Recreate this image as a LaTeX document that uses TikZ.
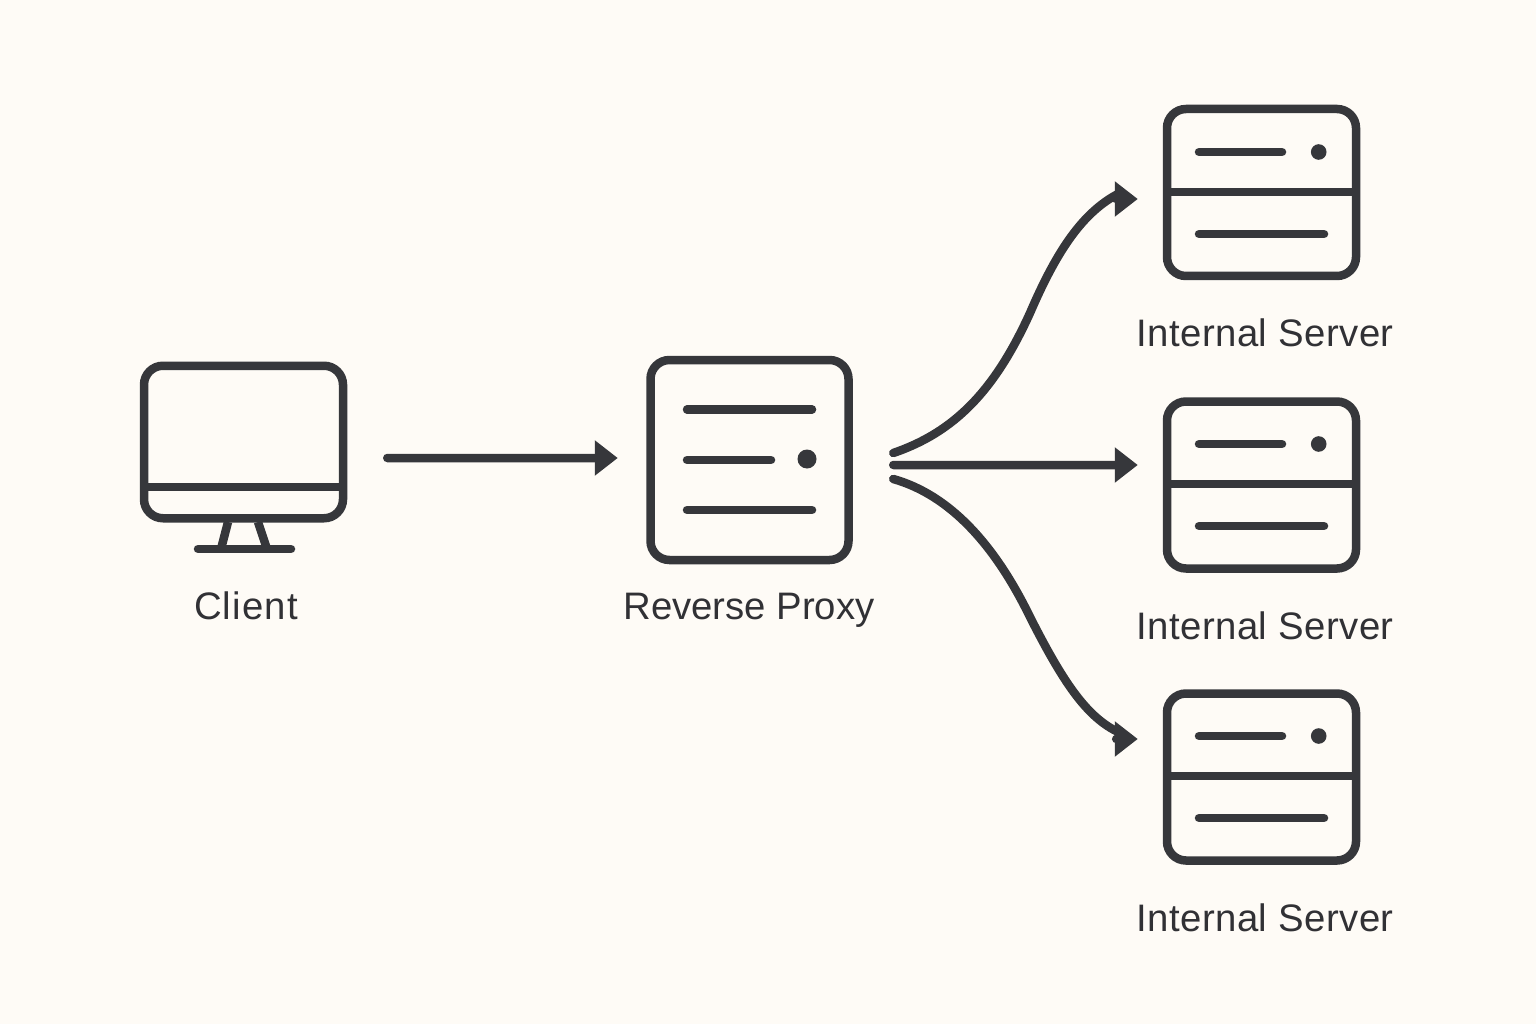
\documentclass[tikz,border=0pt]{standalone}
\usepackage{fontspec}
\setmainfont{Liberation Sans}
\usetikzlibrary{arrows.meta}
\definecolor{inkgray}{HTML}{36373B}
\definecolor{papercream}{HTML}{FEFBF6}
\tikzset{
    iconbox/.style={draw=inkgray, line width=0.085cm, rounded corners=0.19cm, inner sep=0pt},
    iconline/.style={draw=inkgray, line width=0.085cm, line cap=round},
    flowarrow/.style={draw=inkgray, line width=0.085cm, line cap=round, -{Triangle[length=0.23cm, width=0.34cm]}},
    caption/.style={text=inkgray!90!black, anchor=base, font=\fontsize{10.9}{12}\selectfont\addfontfeature{LetterSpace=#1}},
    caption/.default=0
}
\begin{document}
\begin{tikzpicture}
    \fill[papercream] (0, 0) rectangle (15.36, 10.24);
    \useasboundingbox (0, 0) rectangle (15.36, 10.24);

    % client
    \node [iconbox, minimum width=1.99cm, minimum height=1.525cm] (client) at (2.435, 5.82) {};
    \draw [iconline, line cap=butt] (1.44, 5.37) -- (3.43, 5.37);
    \draw [iconline, line cap=butt] (2.28, 5.02) -- (2.21, 4.75);
    \draw [iconline, line cap=butt] (2.58, 5.02) -- (2.67, 4.75);
    \draw [iconline] (1.98, 4.75) -- (2.91, 4.75);
    \node [caption=3] (clientlabel) at (2.46, 4.05) {Client};

    % proxy
    \node [iconbox, minimum width=1.98cm, minimum height=2.00cm] (proxy) at (7.495, 5.64) {};
    \draw [iconline] (6.87, 6.145) -- (8.12, 6.145);
    \draw [iconline] (6.87, 5.64) -- (7.71, 5.64);
    \fill [inkgray] (8.07, 5.65) circle (0.095);
    \draw [iconline] (6.87, 5.14) -- (8.12, 5.14);
    \node [caption] (proxylabel) at (7.49, 4.05) {Reverse Proxy};

    % servers
    \node [iconbox, minimum width=1.89cm, minimum height=1.67cm] (serverA) at (12.615, 8.315) {};
    \draw [iconline, line cap=butt] (11.67, 8.32) -- (13.56, 8.32);
    \draw [iconline] (11.99, 8.72) -- (12.82, 8.72);
    \fill [inkgray] (13.187, 8.72) circle (0.078);
    \draw [iconline] (11.99, 7.90) -- (13.24, 7.90);
    \node [caption=1.2] (serverAlabel) at (12.65, 6.78) {Internal Server};

    \node [iconbox, minimum width=1.89cm, minimum height=1.67cm] (serverB) at (12.615, 5.39) {};
    \draw [iconline, line cap=butt] (11.67, 5.40) -- (13.56, 5.40);
    \draw [iconline] (11.99, 5.80) -- (12.82, 5.80);
    \fill [inkgray] (13.187, 5.80) circle (0.078);
    \draw [iconline] (11.99, 4.98) -- (13.24, 4.98);
    \node [caption=1.2] (serverBlabel) at (12.65, 3.85) {Internal Server};

    \node [iconbox, minimum width=1.89cm, minimum height=1.67cm] (serverC) at (12.615, 2.47) {};
    \draw [iconline, line cap=butt] (11.67, 2.48) -- (13.56, 2.48);
    \draw [iconline] (11.99, 2.88) -- (12.82, 2.88);
    \fill [inkgray] (13.187, 2.88) circle (0.078);
    \draw [iconline] (11.99, 2.06) -- (13.24, 2.06);
    \node [caption=1.2] (serverClabel) at (12.65, 0.93) {Internal Server};

    % connectors
    \draw [flowarrow] ([xshift=0.4cm, yshift=-0.16cm]client.east) -- ([xshift=-0.285cm, yshift=0.02cm]proxy.west);
    \draw [flowarrow] ([xshift=0.405cm, yshift=0.07cm]proxy.east) ..controls (9.55, 5.92) and (9.95, 6.34) ..(10.30, 7.11) ..controls (10.55, 7.69) and (10.80, 8.09) ..(11.16, 8.29) ..controls (11.24, 8.31) and (11.28, 8.25) ..([xshift=-0.25cm, yshift=-0.065cm]serverA.west);
    \draw [flowarrow] ([xshift=0.405cm, yshift=-0.05cm]proxy.east) -- ([xshift=-0.25cm, yshift=0.2cm]serverB.west);
    \draw [flowarrow] ([xshift=0.405cm, yshift=-0.19cm]proxy.east) ..controls (9.50, 5.29) and (9.95, 4.79) ..(10.30, 4.07) ..controls (10.62, 3.44) and (10.85, 3.09) ..(11.16, 2.93) ..controls (11.24, 2.89) and (11.28, 2.85) ..([xshift=-0.25cm, yshift=0.38cm]serverC.west);
\end{tikzpicture}
\end{document}
